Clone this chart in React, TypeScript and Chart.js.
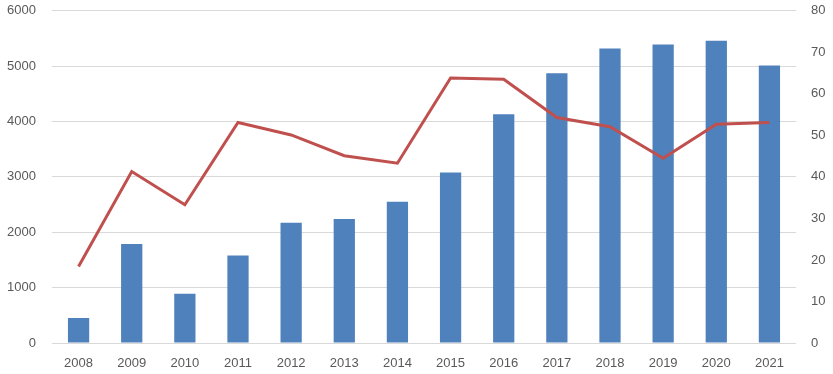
import React, { useEffect, useRef } from "react";
import { Chart, registerables } from "chart.js";

Chart.register(...registerables);

const categories = ["2008", "2009", "2010", "2011", "2012", "2013", "2014", "2015", "2016", "2017", "2018", "2019", "2020", "2021"];
const barValues = [450, 1790, 890, 1580, 2170, 2240, 2550, 3080, 4130, 4870, 5320, 5390, 5460, 5010];
const lineValues = [18.4, 41.3, 33.3, 53.1, 50.1, 45.1, 43.3, 63.8, 63.5, 54.3, 52.1, 44.5, 52.7, 53.1];

const FONT = { family: "'Liberation Sans', Arial, sans-serif", size: 13 };
const TICK_COLOR = "#595959";
const GRID_COLOR = "#d9d9d9";
const SHIFT = 13;
const W = 833;
const H = 374;

export default function App() {
  const ref = useRef<HTMLCanvasElement | null>(null);

  useEffect(() => {
    document.body.style.margin = "0";
    if (!ref.current) return;
    const chart = new Chart(ref.current, {
      data: {
        labels: categories,
        datasets: [
          {
            type: "line",
            data: lineValues,
            yAxisID: "y1",
            borderColor: "#C0504D",
            backgroundColor: "#C0504D",
            borderWidth: 3,
            pointRadius: 0,
            tension: 0,
            order: 0,
          },
          {
            type: "bar",
            data: barValues,
            yAxisID: "y",
            backgroundColor: "#4F81BD",
            barPercentage: 0.4,
            categoryPercentage: 1,
            order: 1,
          },
        ],
      },
      options: {
        responsive: false,
        animation: false,
        maintainAspectRatio: false,
        layout: { autoPadding: false, padding: { top: 0, left: 0, right: 0, bottom: 0 } },
        plugins: { legend: { display: false }, tooltip: { enabled: false }, title: { display: false } },
        scales: {
          x: {
            grid: { display: false, drawTicks: false },
            border: { display: false },
            ticks: { color: TICK_COLOR, font: FONT, padding: 13, maxRotation: 0 },
            afterFit: (s: any) => { s.height = 31; },
          },
          y: {
            position: "left",
            min: 0,
            max: 6000,
            grid: { color: GRID_COLOR, drawTicks: false, lineWidth: 1 },
            border: { display: false },
            ticks: { stepSize: 1000, color: TICK_COLOR, font: FONT, padding: 16, callback: (v: any) => String(v) },
            afterFit: (s: any) => { s.width = 52; },
          },
          y1: {
            position: "right",
            min: 0,
            max: 80,
            grid: { display: false, drawTicks: false },
            border: { display: false },
            ticks: { stepSize: 10, color: TICK_COLOR, font: FONT, padding: 15, callback: (v: any) => String(v) },
            afterFit: (s: any) => { s.width = 37; },
          },
        },
      },
    } as any);
    return () => chart.destroy();
  }, []);

  return (
    <div style={{ position: "absolute", left: 0, top: 0, width: W, height: H, background: "#fff", overflow: "hidden" }}>
      <canvas
        ref={ref}
        width={W}
        height={H + SHIFT}
        style={{ position: "absolute", left: 0, top: -SHIFT, width: W, height: H + SHIFT }}
      />
    </div>
  );
}
